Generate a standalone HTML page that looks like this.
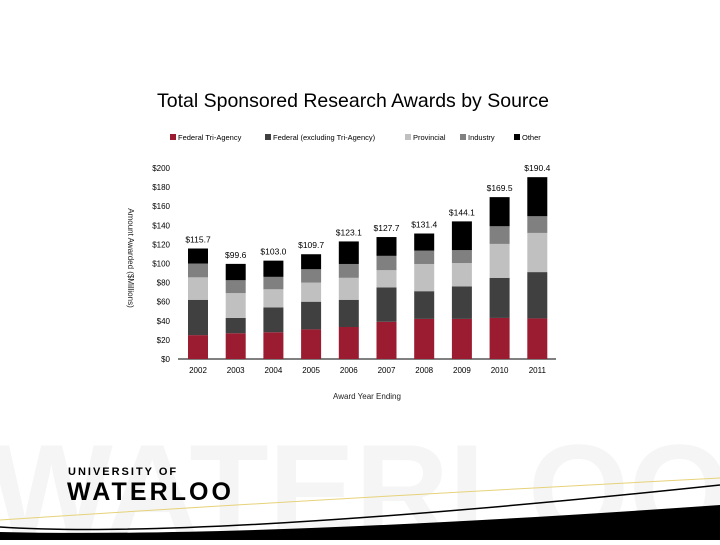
<!DOCTYPE html>
<html><head><meta charset="utf-8"><style>
body{margin:0;background:#fff;}
svg text{font-family:"Liberation Sans",sans-serif;}
</style></head><body>
<svg width="720" height="540" viewBox="0 0 720 540">
<text x="353" y="107" font-size="19.5" text-anchor="middle" fill="#000">Total Sponsored Research Awards by Source</text>
<g id="legend"></g>
<g id="chart"></g>
<text transform="translate(128,258) rotate(90)" font-size="8" text-anchor="middle" fill="#222">Amount Awarded ($Millions)</text>
<text x="367" y="399" font-size="8" text-anchor="middle" fill="#222">Award Year Ending</text>
<g>
<text x="-10" y="535" font-size="130" font-weight="bold" fill="#f5f5f5" textLength="740">WATERLOO</text>
<path d="M0,520 Q300,500 720,478" stroke="#e6d27a" stroke-width="1" fill="none"/>
<path d="M0,527 Q200,540 720,485" stroke="#000" stroke-width="1.5" fill="none"/>
<path d="M0,540 L0,532 Q250,538 720,505 L720,540 Z" fill="#000"/>
<text x="68" y="475" font-size="11" font-weight="bold" letter-spacing="2" fill="#000">UNIVERSITY OF</text>
<text x="67" y="500" font-size="25" font-weight="bold" fill="#000" textLength="164">WATERLOO</text>
</g>
</svg>
<script>
const years=["2002","2003","2004","2005","2006","2007","2008","2009","2010","2011"];
const triAgency=[25,27,28,31,33.5,39,42,42,43,42.5];
const federal=[37,16,26,29,28.5,36,29,34,42,48.5];
const provincial=[23.5,26,19,20,23,18,28.5,24.5,35.5,41];
const industry=[14.5,13.5,13,14,14.5,15,14,13.5,18.5,17.5];
const other=[15.7,17.1,17,15.7,23.6,19.7,17.9,30.1,30.5,40.9];
const totals=["$115.7","$99.6","$103.0","$109.7","$123.1","$127.7","$131.4","$144.1","$169.5","$190.4"];
const yTicks=[0,20,40,60,80,100,120,140,160,180,200];
const seriesNames=["Federal Tri-Agency","Federal (excluding Tri-Agency)","Provincial","Industry","Other"];
const colors=["#9b1b30","#404040","#c0c0c0","#808080","#000000"];
const series=[triAgency,federal,provincial,industry,other];
const NS="http://www.w3.org/2000/svg";
const y=v=>359-v*0.955;
const x=i=>198+i*37.7;
const g=document.getElementById('chart');
function mk(t,a,p){const e=document.createElementNS(NS,t);for(const k in a)e.setAttribute(k,a[k]);(p||g).appendChild(e);return e;}
yTicks.forEach(v=>{const t=mk('text',{x:170,y:y(v)+3,'font-size':8,'text-anchor':'end',fill:'#000'});t.textContent='$'+v;

});
const ax=mk('line',{x1:178,x2:556,y1:y(0),y2:y(0),stroke:'#000','stroke-width':1});


years.forEach((yr,i)=>{let base=0;
series.forEach((s,k)=>{const r=mk('rect',{x:x(i)-10,width:20,y:y(base+s[i]),height:s[i]*0.955,fill:colors[k]});


base+=s[i];});
const lt=mk('text',{x:x(i),y:y(base)-6,'font-size':8.5,'text-anchor':'middle',fill:'#000'});lt.textContent=totals[i];


const xt=mk('text',{x:x(i),y:y(0)+14,'font-size':8,'text-anchor':'middle',fill:'#000'});xt.textContent=yr;

});
const lg=document.getElementById('legend');
const lx=[170,265,405,460,514];
seriesNames.forEach((n,k)=>{const r=mk('rect',{x:lx[k],y:134,width:6,height:6,fill:colors[k]},lg);


const t=mk('text',{x:lx[k]+8,y:140,'font-size':7.5,fill:'#000'},lg);t.textContent=n;

});
</script>
</body></html>
